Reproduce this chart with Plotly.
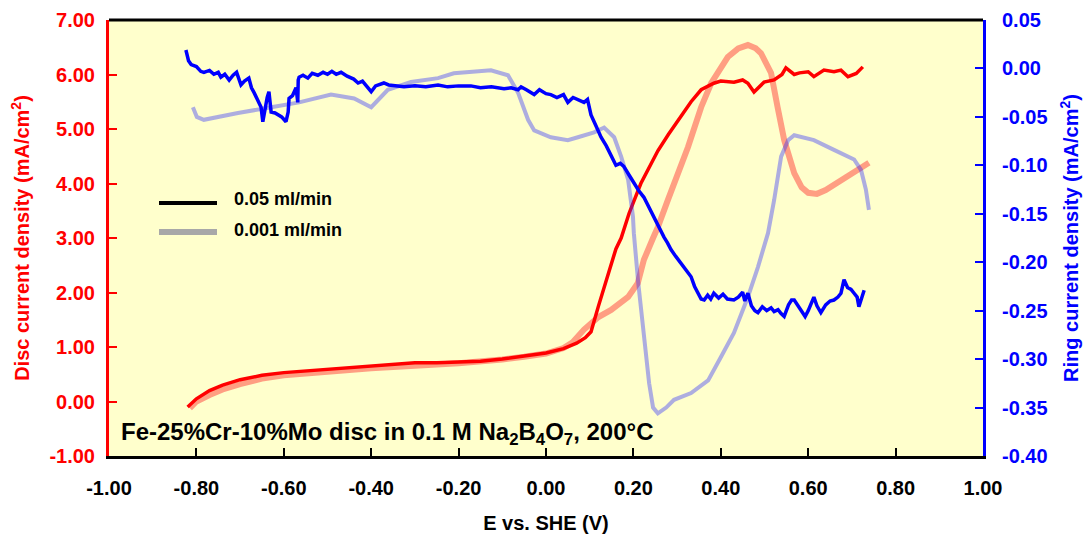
import plotly.graph_objects as go

# ---------------- data ----------------
disc_fast_x = [-0.82, -0.80, -0.77, -0.74, -0.70, -0.65, -0.60, -0.55, -0.50, -0.45, -0.40, -0.35,
               -0.30, -0.25, -0.20, -0.15, -0.10, -0.05, 0.00, 0.04, 0.07, 0.09, 0.103, 0.12, 0.14,
               0.16, 0.172, 0.19, 0.217, 0.24, 0.256, 0.28, 0.309, 0.332, 0.355, 0.384, 0.40, 0.43,
               0.45, 0.462, 0.476, 0.49, 0.499, 0.522, 0.54, 0.549, 0.568, 0.58, 0.60, 0.613, 0.625,
               0.636, 0.659, 0.675, 0.691, 0.71, 0.725]
disc_fast_y = [-0.10, 0.05, 0.20, 0.30, 0.40, 0.48, 0.53, 0.56, 0.59, 0.62, 0.65, 0.69,
               0.71, 0.71, 0.72, 0.74, 0.78, 0.83, 0.89, 0.97, 1.07, 1.17, 1.28, 1.75, 2.30,
               2.80, 3.00, 3.45, 4.00, 4.35, 4.60, 4.90, 5.22, 5.50, 5.72, 5.84, 5.88, 5.86,
               5.90, 5.84, 5.68, 5.80, 5.86, 5.90, 6.00, 6.12, 6.00, 6.03, 6.05, 5.96, 6.02,
               6.08, 6.05, 6.08, 5.96, 6.02, 6.14]

disc_slow_x = [-0.815, -0.80, -0.77, -0.74, -0.70, -0.65, -0.60, -0.55, -0.50, -0.45, -0.40, -0.35,
               -0.30, -0.25, -0.20, -0.15, -0.10, -0.05, 0.00, 0.04, 0.06, 0.087, 0.12, 0.149,
               0.188, 0.21, 0.224, 0.245, 0.256, 0.279, 0.293, 0.325, 0.355, 0.378, 0.416, 0.44,
               0.462, 0.48, 0.492, 0.515, 0.53, 0.545, 0.568, 0.585, 0.60, 0.62, 0.64, 0.659,
               0.68, 0.705, 0.72, 0.739]
disc_slow_y = [-0.12, 0.00, 0.12, 0.22, 0.32, 0.42, 0.48, 0.52, 0.55, 0.58, 0.61, 0.64,
               0.66, 0.68, 0.70, 0.73, 0.77, 0.82, 0.88, 0.98, 1.08, 1.32, 1.55, 1.68,
               1.92, 2.17, 2.60, 3.00, 3.20, 3.70, 4.00, 4.67, 5.40, 5.84, 6.32, 6.48,
               6.54, 6.48, 6.39, 6.03, 5.40, 4.80, 4.19, 3.93, 3.83, 3.81, 3.88, 3.97,
               4.08, 4.19, 4.27, 4.38]

ring_fast_x = [-0.824, -0.818, -0.812, -0.800, -0.790, -0.783, -0.770, -0.760, -0.750, -0.744, -0.735,
               -0.725, -0.716, -0.708, -0.698, -0.690, -0.680, -0.674, -0.668, -0.662, -0.657, -0.652,
               -0.648, -0.643, -0.638, -0.634, -0.631, -0.629, -0.620, -0.613, -0.605, -0.595, -0.590,
               -0.588, -0.580, -0.572, -0.568, -0.567, -0.565, -0.556, -0.545, -0.535, -0.522, -0.510,
               -0.500, -0.490, -0.480, -0.469, -0.455, -0.440, -0.430, -0.420, -0.410, -0.400, -0.390,
               -0.380, -0.371, -0.360, -0.345, -0.325, -0.300, -0.275, -0.247, -0.225, -0.200, -0.172,
               -0.150, -0.125, -0.096, -0.080, -0.064, -0.057, -0.045, -0.035, -0.027, -0.015, 0.000,
               0.011, 0.025, 0.040, 0.050, 0.062, 0.075, 0.087, 0.095, 0.103, 0.115, 0.126, 0.138,
               0.149, 0.155, 0.160, 0.170, 0.178, 0.190, 0.201, 0.212, 0.224, 0.235, 0.247, 0.258,
               0.270, 0.278, 0.286, 0.297, 0.309, 0.320, 0.332, 0.340, 0.348, 0.355, 0.362, 0.370,
               0.377, 0.384, 0.395, 0.405, 0.415, 0.430, 0.440, 0.450, 0.455, 0.462, 0.470, 0.478,
               0.485, 0.495, 0.505, 0.515, 0.522, 0.531, 0.538, 0.545, 0.555, 0.562, 0.568, 0.575,
               0.585, 0.593, 0.600, 0.607, 0.613, 0.620, 0.629, 0.640, 0.650, 0.659, 0.668, 0.675,
               0.682, 0.690, 0.698, 0.705, 0.712, 0.716, 0.722, 0.728]
ring_fast_y = [0.019, 0.008, 0.004, 0.002, -0.003, -0.004, -0.002, -0.006, -0.004, -0.009, -0.006,
               -0.012, -0.007, -0.004, -0.017, -0.013, -0.010, -0.020, -0.025, -0.030, -0.035, -0.040,
               -0.055, -0.040, -0.030, -0.024, -0.040, -0.045, -0.046, -0.048, -0.050, -0.055, -0.045,
               -0.031, -0.028, -0.020, -0.035, -0.012, -0.009, -0.007, -0.010, -0.005, -0.007, -0.004,
               -0.006, -0.003, -0.006, -0.004, -0.008, -0.011, -0.015, -0.013, -0.019, -0.024, -0.018,
               -0.016, -0.015, -0.017, -0.018, -0.019, -0.018, -0.019, -0.017, -0.019, -0.018, -0.018,
               -0.020, -0.019, -0.021, -0.020, -0.022, -0.019, -0.022, -0.025, -0.027, -0.022, -0.026,
               -0.027, -0.030, -0.027, -0.035, -0.030, -0.033, -0.035, -0.032, -0.048, -0.060, -0.071,
               -0.080, -0.091, -0.096, -0.100, -0.098, -0.101, -0.110, -0.118, -0.126, -0.133, -0.143,
               -0.153, -0.163, -0.174, -0.180, -0.187, -0.194, -0.201, -0.208, -0.215, -0.225, -0.232,
               -0.238, -0.239, -0.234, -0.238, -0.232, -0.237, -0.233, -0.238, -0.239, -0.236, -0.231,
               -0.240, -0.232, -0.245, -0.250, -0.252, -0.246, -0.250, -0.247, -0.251, -0.249, -0.253,
               -0.256, -0.244, -0.239, -0.239, -0.244, -0.250, -0.256, -0.250, -0.243, -0.236, -0.245,
               -0.252, -0.244, -0.240, -0.239, -0.236, -0.232, -0.218, -0.226, -0.228, -0.232, -0.236,
               -0.246, -0.238, -0.229]

ring_slow_x = [-0.808, -0.799, -0.783, -0.744, -0.705, -0.629, -0.565, -0.492, -0.439, -0.400, -0.362,
               -0.309, -0.247, -0.211, -0.126, -0.087, -0.064, -0.041, -0.027, 0.011, 0.050, 0.073,
               0.110, 0.133, 0.156, 0.172, 0.188, 0.199, 0.201, 0.211, 0.224, 0.236, 0.245, 0.256,
               0.275, 0.293, 0.332, 0.371, 0.400, 0.430, 0.462, 0.485, 0.508, 0.522, 0.538, 0.554,
               0.568, 0.613, 0.659, 0.705, 0.721, 0.732, 0.739]
ring_slow_y = [-0.040, -0.050, -0.053, -0.050, -0.046, -0.040, -0.035, -0.027, -0.031, -0.040, -0.022,
               -0.014, -0.010, -0.005, -0.002, -0.007, -0.025, -0.053, -0.064, -0.071, -0.074, -0.071,
               -0.066, -0.061, -0.071, -0.091, -0.115, -0.153, -0.170, -0.221, -0.273, -0.325, -0.350,
               -0.356, -0.350, -0.342, -0.335, -0.322, -0.298, -0.273, -0.236, -0.205, -0.170, -0.136,
               -0.091, -0.074, -0.069, -0.074, -0.084, -0.094, -0.105, -0.125, -0.146]

x_ticks = [-1.0, -0.8, -0.6, -0.4, -0.2, 0.0, 0.2, 0.4, 0.6, 0.8, 1.0]
x_tick_labels = ["-1.00", "-0.80", "-0.60", "-0.40", "-0.20", "0.00", "0.20", "0.40", "0.60", "0.80", "1.00"]
disc_ticks = [-1, 0, 1, 2, 3, 4, 5, 6, 7]
disc_tick_labels = ["-1.00", "0.00", "1.00", "2.00", "3.00", "4.00", "5.00", "6.00", "7.00"]
ring_ticks = [-0.40, -0.35, -0.30, -0.25, -0.20, -0.15, -0.10, -0.05, 0.00, 0.05]
ring_tick_labels = ["-0.40", "-0.35", "-0.30", "-0.25", "-0.20", "-0.15", "-0.10", "-0.05", "0.00", "0.05"]

FONT = "Liberation Sans, Arial, sans-serif"

fig = go.Figure()
fig.add_trace(go.Scatter(x=disc_slow_x, y=disc_slow_y, mode="lines",
                         line=dict(color="rgba(255,40,40,0.45)", width=6), showlegend=False))
fig.add_trace(go.Scatter(x=ring_slow_x, y=ring_slow_y, mode="lines", yaxis="y2",
                         line=dict(color="rgba(40,40,255,0.38)", width=4), showlegend=False))
fig.add_trace(go.Scatter(x=disc_fast_x, y=disc_fast_y, mode="lines",
                         line=dict(color="#FF0000", width=3.5), showlegend=False))
fig.add_trace(go.Scatter(x=ring_fast_x, y=ring_fast_y, mode="lines", yaxis="y2",
                         line=dict(color="#0000FF", width=3.5), showlegend=False))

fig.update_layout(
    width=1085, height=534,
    margin=dict(l=109, r=102, t=20, b=78),
    paper_bgcolor="white", plot_bgcolor="#FFFFCC",
    font=dict(family=FONT, size=18, color="black"),
    xaxis=dict(range=[-1, 1], tickvals=x_ticks, ticktext=x_tick_labels, automargin=False,
               showgrid=False, zeroline=False, showline=True, linecolor="black", linewidth=3,
               ticks="inside", ticklen=8, tickwidth=2, tickcolor="black",
               tickfont=dict(family=FONT, size=20, color="black", weight="bold"),
               ticklabelstandoff=12,
               title=dict(text="E vs. SHE (V)", standoff=19,
                          font=dict(family=FONT, size=20, color="black", weight="bold"))),
    yaxis=dict(range=[-1, 7], tickvals=disc_ticks, ticktext=disc_tick_labels, automargin=False,
               showgrid=False, zeroline=False, showline=True, linecolor="#FF0000", linewidth=3,
               ticks="inside", ticklen=8, tickwidth=2, tickcolor="#FF0000",
               tickfont=dict(family=FONT, size=20, color="#FF0000", weight="bold"),
               ticklabelstandoff=7,
               title=dict(text="Disc current density (mA/cm<sup>2</sup>)", standoff=15,
                          font=dict(family=FONT, size=20, color="#FF0000", weight="bold"))),
    yaxis2=dict(range=[-0.40, 0.05], overlaying="y", side="right", automargin=False,
                tickvals=ring_ticks, ticktext=ring_tick_labels,
                showgrid=False, zeroline=False, showline=True, linecolor="#0000FF", linewidth=3,
                ticks="inside", ticklen=8, tickwidth=2, tickcolor="#0000FF",
                tickfont=dict(family=FONT, size=20, color="#0000FF", weight="bold"),
                ticklabelstandoff=12,
                title=dict(text="Ring current density (mA/cm<sup>2</sup>)", standoff=18,
                           font=dict(family=FONT, size=20, color="#0000FF", weight="bold"))),
    shapes=[
        dict(type="line", xref="paper", yref="paper", x0=0, x1=1, y0=1, y1=1,
             line=dict(color="black", width=3)),
        # legend samples
        dict(type="line", xref="paper", yref="paper", x0=(159 - 109) / 874, x1=(217 - 109) / 874,
             y0=(456 - 203) / 436, y1=(456 - 203) / 436, line=dict(color="black", width=4)),
        dict(type="line", xref="paper", yref="paper", x0=(159 - 109) / 874, x1=(217 - 109) / 874,
             y0=(456 - 232) / 436, y1=(456 - 232) / 436, line=dict(color="#A8A8A8", width=6)),
    ],
    annotations=[
        dict(text="0.05 ml/min", xref="paper", yref="paper", x=(232 - 109) / 874, y=(456 - 199) / 436,
             xanchor="left", yanchor="middle", showarrow=False,
             font=dict(family=FONT, size=18, color="black", weight="bold")),
        dict(text="0.001 ml/min", xref="paper", yref="paper", x=(232 - 109) / 874, y=(456 - 230) / 436,
             xanchor="left", yanchor="middle", showarrow=False,
             font=dict(family=FONT, size=18, color="black", weight="bold")),
        dict(text="Fe-25%Cr-10%Mo disc in 0.1 M Na<sub>2</sub>B<sub>4</sub>O<sub>7</sub>, 200°C",
             xref="paper", yref="paper", x=(119 - 109) / 874, y=(456 - 433) / 436,
             xanchor="left", yanchor="middle", showarrow=False,
             font=dict(family=FONT, size=24, color="black", weight="bold")),
    ],
)

fig.write_html("out.html")
